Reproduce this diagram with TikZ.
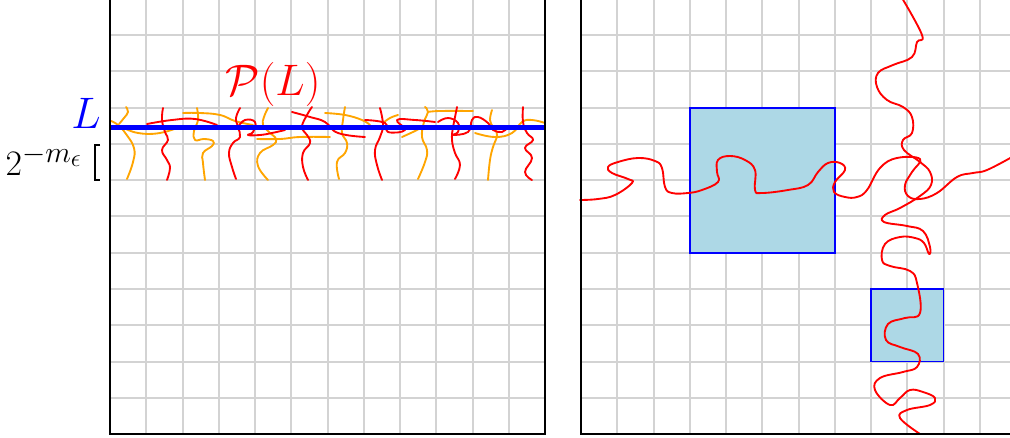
\documentclass[tikz,border=0pt]{standalone}
\definecolor{gridgray}{RGB}{211,211,211}
\definecolor{lblue}{RGB}{173,216,230}
\definecolor{myorange}{RGB}{255,165,0}
\begin{document}
\begin{tikzpicture}[x=0.75pt,y=-0.75pt,
  gridline/.style={draw=gridgray, line width=1.5pt},
  frame/.style={draw=black, line width=1.5pt},
  redpath/.style={draw=red, line width=1.4pt, line cap=round, line join=round},
  orpath/.style={draw=myorange, line width=1.4pt, line cap=round, line join=round},
  boxstyle/.style={draw=blue, fill=lblue, line width=1.2pt},
  bigfont/.style={font=\Huge, scale=1.33, inner sep=0pt},
  midfont/.style={font=\Huge, scale=1.08, inner sep=0pt}]
\useasboundingbox (0,0) rectangle (1010,438);
\clip (0,0) rectangle (1010,438);

% ---------- grids ----------
\foreach \k in {1,...,11} {
  \draw[gridline] ({110+36.25*\k},-2) -- ({110+36.25*\k},434);
  \draw[gridline] (110,{434-36.25*\k}) -- (545,{434-36.25*\k});
  \draw[gridline] (581,{434-36.25*\k}) -- (1012,{434-36.25*\k});
}
\foreach \k in {1,...,12} {
  \draw[gridline] ({581+36.25*\k},-2) -- ({581+36.25*\k},434);
}

% ---------- boxes (right panel) ----------
\draw[boxstyle] (689.75,107.75) rectangle (834.75,252.75);
\draw[boxstyle] (871,289) rectangle (943.5,361.5);

% ---------- left panel strands ----------
\draw[orpath] plot[smooth, tension=0.75] coordinates {(127,179) (133,162) (134,148) (126,134) (118,125) (111,121)};
\draw[orpath] plot[smooth, tension=0.75] coordinates {(119,124) (124,118) (128,112) (126,107)};
\draw[orpath] plot[smooth, tension=0.75] coordinates {(122,127) (138,133) (160,133) (182,126)};
\draw[orpath] plot[smooth, tension=0.75] coordinates {(205,180) (203,163) (203,153) (212,146) (213,141) (204,139) (195,140) (194,131) (198,120) (197,108)};
\draw[orpath] plot[smooth, tension=0.75] coordinates {(183,113) (200,113) (220,115) (235,121) (253,125)};
\draw[orpath] plot[smooth, tension=0.75] coordinates {(268,180) (258,166) (260,153) (273,145) (276,139) (269,132) (263,125) (264,117) (268,108)};
\draw[orpath] plot[smooth, tension=0.75] coordinates {(257,139) (280,139) (300,137) (330,137)};
\draw[orpath] plot[smooth, tension=0.75] coordinates {(339,179) (337,162) (345,153) (347,143) (342,133) (343,120) (345,107)};
\draw[orpath] plot[smooth, tension=0.75] coordinates {(325,113) (345,115) (362,120) (370,125)};
\draw[orpath] plot[smooth, tension=0.75] coordinates {(418,179) (425,162) (427,150) (422,137) (424,122) (428,112) (425,107)};
\draw[orpath] plot[smooth, tension=0.75] coordinates {(402,137) (415,131) (422,127)};
\draw[orpath] plot[smooth, tension=0.75] coordinates {(398,115) (390,118) (383,123)};
\draw[orpath] plot[smooth, tension=0.75] coordinates {(428,112) (440,111) (473,111)};
\draw[orpath] plot[smooth, tension=0.75] coordinates {(488,180) (490,160) (493,147) (497,135) (493,127) (490,120) (492,110)};
\draw[orpath] plot[smooth, tension=0.75] coordinates {(475,133) (495,137) (512,133) (522,122) (532,120) (545,123)};

\draw[redpath] plot[smooth, tension=0.75] coordinates {(167,180) (170,168) (167,160) (162,150) (168,140) (165,132) (162,120) (163,108)};
\draw[redpath] plot[smooth, tension=0.75] coordinates {(147,124) (172,120) (195,119) (217,125)};
\draw[redpath] plot[smooth, tension=0.75] coordinates {(236,179) (232,167) (229,153) (233,143) (240,137) (238,127) (236,118) (240,108)};
\draw[redpath] plot[smooth, tension=0.75] coordinates {(238,127) (245,120) (255,122) (253,132) (248,135) (260,135) (272,133) (285,130)};
\draw[redpath] plot[smooth, tension=0.75] coordinates {(308,180) (303,167) (303,153) (310,143) (307,135) (302,127) (307,115) (312,107)};
\draw[redpath] plot[smooth, tension=0.75] coordinates {(292,112) (310,117) (325,122) (338,133) (365,137)};
\draw[redpath] plot[smooth, tension=0.75] coordinates {(382,180) (377,165) (375,150) (380,137) (383,125) (380,108)};
\draw[redpath] plot[smooth, tension=0.75] coordinates {(365,120) (385,123) (388,132) (405,130) (397,120) (415,120) (435,122)};
\draw[redpath] plot[smooth, tension=0.75] coordinates {(455,179) (460,165) (455,153) (452,140) (453,127) (455,117) (457,107)};
\draw[redpath] plot[smooth, tension=0.75] coordinates {(438,122) (448,118) (458,123) (458,132) (452,135) (468,132) (472,120) (478,117) (488,123) (493,130) (502,132) (507,128)};
\draw[redpath] plot[smooth, tension=0.75] coordinates {(532,180) (525,172) (532,158) (525,148) (533,140) (527,133) (523,122) (523,107)};

% ---------- line L ----------
\coordinate (Lstart) at (110,127.7);
\coordinate (Lend) at (545,127.7);
\draw[blue, line width=3.4pt] (Lstart) -- (Lend);

% ---------- right panel curves ----------
\draw[redpath] plot[smooth, tension=0.7] coordinates {(580,200) (598,199) (615,195) (632,183) (628,179) (612,173) (608,167) (618,162) (638,158) (655,161) (662,168) (665,187) (672,193) (688,193) (702,190) (718,182) (717,172) (718,160) (730,156) (745,160) (755,170) (755,190) (762,193) (788,190) (808,185) (818,172) (828,163) (840,163) (845,170) (835,182) (834,192) (845,197) (857,197) (867,190) (880,168) (897,158) (920,159) (912,172) (905,185) (908,196) (920,199) (937,193) (957,177) (973,173) (987,170) (1012,157)};
\draw[redpath] plot[smooth, tension=0.7] coordinates {(902,-2) (922,35) (917,42) (912,57) (893,65) (878,73) (877,87) (887,100) (903,107) (912,117) (912,133) (903,140) (904,150) (920,162) (930,172) (931,185) (920,196) (900,208) (885,215) (884,222) (907,226) (923,231) (930,247) (929,254) (924,243) (915,238) (900,237) (885,244) (882,260) (890,266) (910,271) (917,283) (920,313) (905,318) (888,324) (886,340) (900,347) (918,354) (917,367) (903,372) (880,378) (875,390) (890,405) (900,398) (910,390) (923,392) (935,398) (930,405) (907,410) (900,418) (920,434)};

% ---------- frames ----------
\draw[frame] (110,-2) -- (110,434) -- (545,434) -- (545,-2);
\draw[frame] (581,-2) -- (581,434) -- (1012,434);

% ---------- labels ----------
\node[bigfont, text=blue] (Llab) at (86,113) {$L$};
\node[bigfont, text=red] (PL) at (273,84) {$\mathcal{P}(L)$};
\node[midfont, text=black] (mlab) at (44,160) {$2^{-m_\epsilon}$};
\draw[black, line width=1.3pt] (100,145) -- (95,145) -- (95,180) -- (100,180);
\end{tikzpicture}
\end{document}
